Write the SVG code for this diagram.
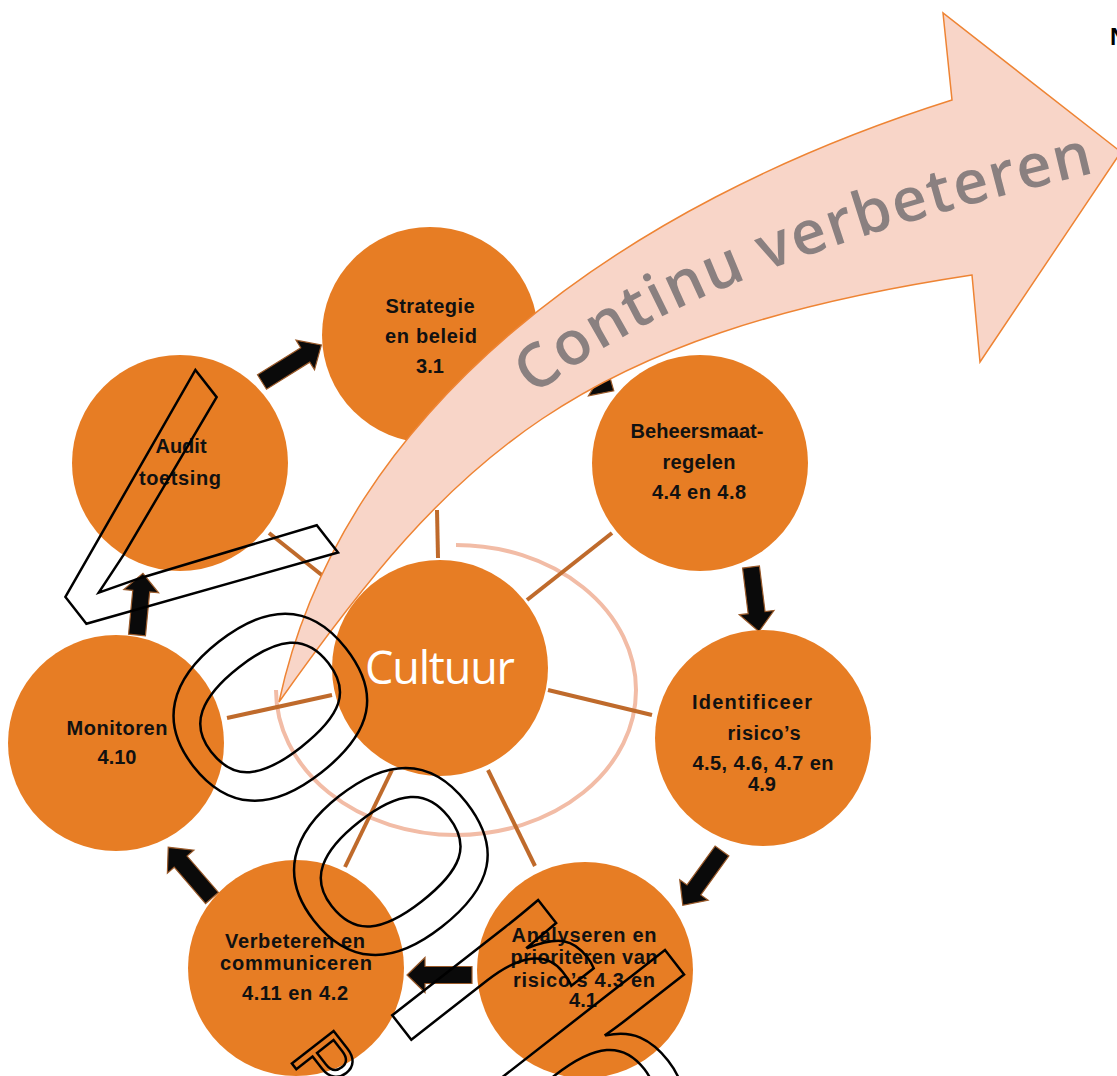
<svg xmlns="http://www.w3.org/2000/svg" width="1117" height="1076" viewBox="0 0 1117 1076">
<defs>
<style>
.node{fill:#E77D24}
.lbl{font-family:"Liberation Sans",Arial,sans-serif;font-weight:bold;font-size:20px;fill:#111;text-anchor:middle}
.spoke{stroke:#BF6A2B;stroke-width:4;fill:none}
.blk{fill:#0a0a0a;stroke:#9A5A2A;stroke-width:1.2}
.wm{font-family:"Liberation Sans",Arial,sans-serif;fill:none;stroke:#000;stroke-width:2.5}
</style>
</defs>
<rect width="1117" height="1076" fill="#fff"/>
<g id="connectors">
<path d="M456 545 A180 145 0 1 1 276 690" fill="none" stroke="#F2BCA6" stroke-width="4"/>
<line class="spoke" x1="437" y1="510" x2="438" y2="558"/>
<line class="spoke" x1="269" y1="533" x2="328" y2="580"/>
<line class="spoke" x1="612" y1="533" x2="527" y2="600"/>
<line class="spoke" x1="548" y1="690" x2="652" y2="715"/>
<line class="spoke" x1="227" y1="718" x2="332" y2="695"/>
<line class="spoke" x1="392" y1="770" x2="345" y2="867"/>
<line class="spoke" x1="488" y1="770" x2="535" y2="866"/>
<path class="blk" transform="translate(262,382) rotate(-32)" d="M0,-8.5 H51 V-17.5 L70,0 L51,17.5 V8.5 H0 Z"/>
<path class="blk" transform="translate(560,358) rotate(31.4)" d="M0,-8.5 H44 V-17.5 L63,0 L44,17.5 V8.5 H0 Z"/>
<path class="blk" transform="translate(751,567) rotate(83)" d="M0,-8.5 H46 V-17.5 L65,0 L46,17.5 V8.5 H0 Z"/>
<path class="blk" transform="translate(722,851) rotate(125.8)" d="M0,-8.5 H48 V-17.5 L67,0 L48,17.5 V8.5 H0 Z"/>
<path class="blk" transform="translate(472,975) rotate(180)" d="M0,-8.5 H47 V-17.5 L65,0 L47,17.5 V8.5 H0 Z"/>
<path class="blk" transform="translate(212,898) rotate(-130.8)" d="M0,-8.5 H48 V-17.5 L67,0 L48,17.5 V8.5 H0 Z"/>
<path class="blk" transform="translate(137,635) rotate(-84.5)" d="M0,-8.5 H44 V-17.5 L62,0 L44,17.5 V8.5 H0 Z"/>
</g>
<g id="strategie">
<circle class="node" cx="430" cy="335" r="108"/>
<text class="lbl" x="430" y="313" textLength="89">Strategie</text>
<text class="lbl" x="431" y="343" textLength="92">en beleid</text>
<text class="lbl" x="430" y="373">3.1</text>
</g>
<g id="audit">
<circle class="node" cx="180" cy="463" r="108"/>
<text class="lbl" x="181" y="453">Audit</text>
<text class="lbl" x="180" y="485" textLength="82">toetsing</text>
</g>
<g id="beheersmaatregelen">
<circle class="node" cx="700" cy="463" r="108"/>
<text class="lbl" x="697" y="438" textLength="133">Beheersmaat-</text>
<text class="lbl" x="699" y="469" textLength="73">regelen</text>
<text class="lbl" x="699" y="499" textLength="94">4.4 en 4.8</text>
</g>
<g id="cultuur">
<circle class="node" cx="440" cy="668" r="108"/>
<text x="440" y="684" text-anchor="middle" font-family="'Open Sans',sans-serif" font-size="45" fill="#fff" textLength="150">Cultuur</text>
</g>
<g id="identificeer">
<circle class="node" cx="763" cy="738" r="108"/>
<text class="lbl" x="752" y="709" textLength="120">Identificeer</text>
<text class="lbl" x="764" y="740" textLength="73">risico’s</text>
<text class="lbl" x="763" y="770" textLength="141">4.5, 4.6, 4.7 en</text>
<text class="lbl" x="762" y="791">4.9</text>
</g>
<g id="analyseren">
<circle class="node" cx="585" cy="970" r="108"/>
<text class="lbl" x="584" y="942" textLength="145">Analyseren en</text>
<text class="lbl" x="584" y="964" textLength="147">prioriteren van</text>
<text class="lbl" x="584" y="987" textLength="142">risico’s 4.3 en</text>
<text class="lbl" x="583" y="1007">4.1</text>
</g>
<g id="verbeteren">
<circle class="node" cx="296" cy="968" r="108"/>
<text class="lbl" x="295" y="948" textLength="140">Verbeteren en</text>
<text class="lbl" x="296" y="970" textLength="152">communiceren</text>
<text class="lbl" x="295" y="1000" textLength="106">4.11 en 4.2</text>
</g>
<g id="monitoren">
<circle class="node" cx="116" cy="743" r="108"/>
<text class="lbl" x="117" y="735" textLength="101">Monitoren</text>
<text class="lbl" x="117" y="764">4.10</text>
</g>
<g id="continu-verbeteren">
<path d="M279 702 C342 408 620 205 952 100 L943 13 L1121 152 L980 362 L972 275 C576 335 453 456 279 702 Z" fill="#F8D5C8" stroke="#EE8434" stroke-width="1.5"/>
<path id="cvpath" d="M534 396 Q700 262 1125 166" fill="none"/>
<text font-family="'Open Sans',sans-serif" font-weight="600" font-size="61" fill="#8A8080" letter-spacing="1.9"><textPath href="#cvpath">Continu verbeteren</textPath></text>
</g>
<g id="watermark">
<text class="wm" transform="translate(3.6,517.8) rotate(52)" font-size="352">Voorbeeld</text>
<text class="wm" transform="translate(288,1058.5) rotate(52)" font-size="77">P</text>
</g>
<text x="1110" y="45" font-family="'Liberation Sans',Arial,sans-serif" font-weight="bold" font-size="24" fill="#000">N</text>
</svg>
